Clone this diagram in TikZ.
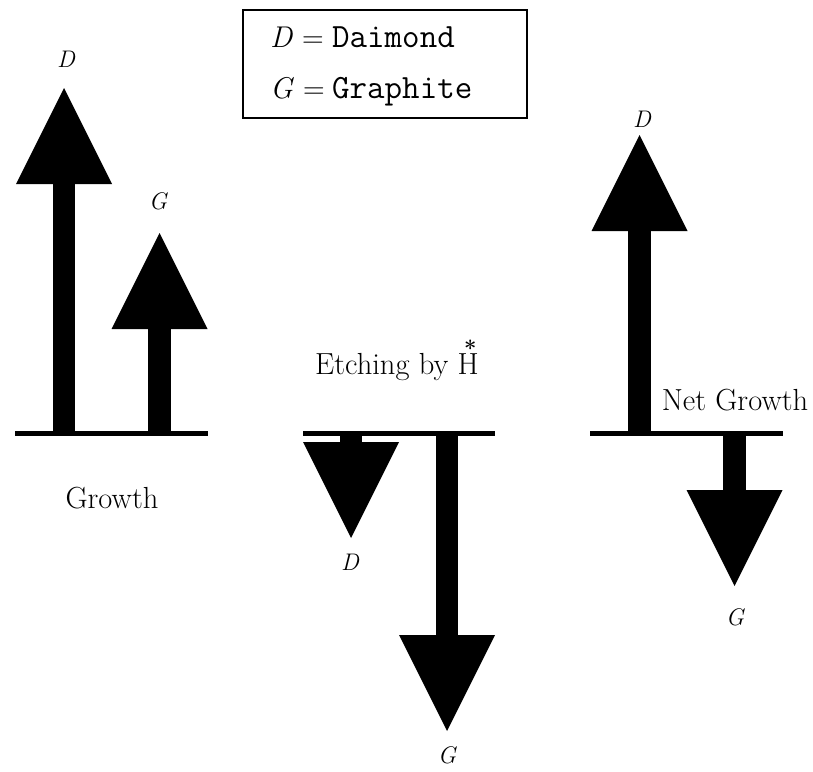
\documentclass[tikz,border=0pt]{standalone}
\usepackage{fontspec}
\usetikzlibrary{arrows.meta}
\begin{document}
\begin{tikzpicture}[x=1pt,y=-1pt,
  groundline/.style={line width=5pt},
  fatarrow/.style={line width=22.5pt,-{Triangle[width=96pt,length=96pt,line width=0pt]}},
  lab/.style={font=\fontsize{24}{26}\selectfont\itshape,inner sep=0pt},
  txt/.style={font=\fontsize{30.5}{33}\selectfont,inner sep=0pt},
  legtxt/.style={font=\fontsize{30}{32}\selectfont,inner sep=0pt,anchor=base west},
  legmono/.style={font=\fontsize{34}{36}\selectfont\ttfamily,inner sep=0pt,anchor=base west}]
\useasboundingbox (0,0) rectangle (813,771);
% legend
\node[draw,line width=1.2pt,minimum width=284pt,minimum height=108pt,inner sep=0pt] (legend) at (385,64) {};
\node[legtxt] (legD) at (270,47) {\textit{D} =};
\node[legmono] (legDt) at (332,47) {Daimond};
\node[legtxt] (legG) at (270,98) {\textit{G} =};
\node[legmono] (legGt) at (332,98) {Graphite};
% left panel: growth
\coordinate (l1) at (15,433); \coordinate (l2) at (208,433);
\draw[groundline] (l1) -- (l2);
\coordinate (lDb) at (64,433); \coordinate (lDt) at (64,88);
\coordinate (lGb) at (159.5,433); \coordinate (lGt) at (159.5,233);
\draw[fatarrow] (lDb) -- (lDt);
\draw[fatarrow] (lGb) -- (lGt);
\node[lab] (lD) at (66,59) {D};
\node[lab] (lG) at (158,201) {G};
\node[txt,anchor=base] (growth) at (112,508) {Growth};
% middle panel: etching
\coordinate (m1) at (303,433); \coordinate (m2) at (495,433);
\draw[groundline] (m1) -- (m2);
\coordinate (mDb) at (351,431); \coordinate (mDt) at (351,538);
\coordinate (mGb) at (447,431); \coordinate (mGt) at (447,731);
\draw[fatarrow] (mDb) -- (mDt);
\draw[fatarrow] (mGb) -- (mGt);
\node[lab] (mD) at (350,562) {D};
\node[lab] (mG) at (447,755) {G};
\node[txt,anchor=base west] (etch) at (315,374)
  {Etching by H\makebox[0pt][r]{\raisebox{17.5pt}{\fontsize{22}{22}\selectfont\bfseries *}\hspace{2.2pt}}};
% right panel: net growth
\coordinate (r1) at (590,433); \coordinate (r2) at (783,433);
\draw[groundline] (r1) -- (r2);
\coordinate (rDb) at (639.5,433); \coordinate (rDt) at (639.5,135);
\coordinate (rGb) at (734.5,431); \coordinate (rGt) at (734.5,586);
\draw[fatarrow] (rDb) -- (rDt);
\draw[fatarrow] (rGb) -- (rGt);
\node[lab] (rD) at (642,119) {D};
\node[lab] (rG) at (735,617) {G};
\node[txt,anchor=base] (net) at (735,410) {Net Growth};
\end{tikzpicture}
\end{document}
